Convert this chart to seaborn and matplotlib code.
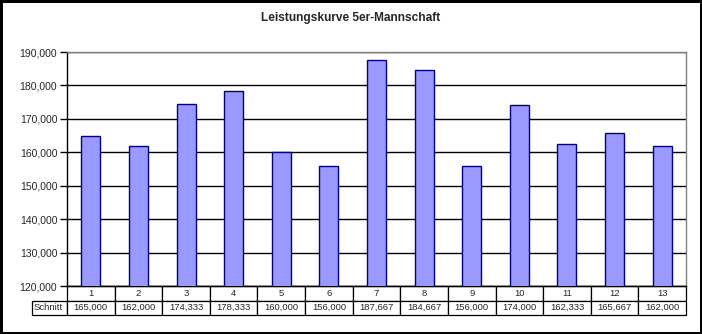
import matplotlib
matplotlib.use("Agg")
import matplotlib.pyplot as plt
import seaborn as sns
import pandas as pd

# Performance curve of the 5-player team: average ("Schnitt") per match
matches = ["1", "2", "3", "4", "5", "6", "7", "8", "9", "10", "11", "12", "13"]
schnitt = [165.000, 162.000, 174.333, 178.333, 160.000, 156.000, 187.667,
           184.667, 156.000, 174.000, 162.333, 165.667, 162.000]
y_ticks = [120000, 130000, 140000, 150000, 160000, 170000, 180000, 190000]

values = [v * 1000 for v in schnitt]
df = pd.DataFrame({"Spiel": matches, "Schnitt": values})

sns.set_style("white")
plt.rcParams["font.family"] = ["Liberation Sans", "DejaVu Sans"]

W, H = 702, 334
fig = plt.figure(figsize=(W / 100, H / 100), dpi=100)
fig.patch.set_facecolor("white")
fig.patch.set_edgecolor("black")
fig.patch.set_linewidth(2.5)

L, R, T, B = 67, 686, 52, 286
ax = fig.add_axes([L / W, 1 - B / H, (R - L) / W, (B - T) / H])

sns.barplot(data=df, x="Spiel", y="Schnitt", ax=ax, width=0.4,
            color="#9999FF", edgecolor="#000080", linewidth=1.0,
            saturation=1, zorder=3)

ax.set_ylim(y_ticks[0], y_ticks[-1])
ax.set_xlim(-0.5, len(matches) - 0.5)
ax.set_yticks(y_ticks)
ax.set_yticklabels([f"{t:,}" for t in y_ticks], fontsize=7.5)
ax.yaxis.grid(True, color="black", linewidth=1.0, zorder=0)
ax.set_axisbelow(True)
ax.tick_params(axis="y", direction="out", length=5, width=1, color="black",
               left=True, pad=2)
ax.set_xticks([])
ax.set_xlabel("")
ax.set_ylabel("")
for side in ("top", "right"):
    ax.spines[side].set_color("#808080")
    ax.spines[side].set_linewidth(1)
ax.spines["left"].set_color("black")
ax.spines["left"].set_linewidth(1)
ax.spines["bottom"].set_color("black")
ax.spines["bottom"].set_linewidth(1)

fig.suptitle("Leistungskurve 5er-Mannschaft", x=0.5, y=1 - 18 / H, va="center",
             fontsize=8.6, fontweight="bold",
             family=["Liberation Sans Narrow", "Liberation Sans"])

# Data table underneath the bars
label_w = 35
plot_w = R - L
table_h = 29
cell_text = [[""] + matches,
             ["Schnitt"] + [f"{v:,.0f}" for v in values]]
col_w = [label_w] + [plot_w / len(matches)] * len(matches)
tbl = ax.table(cellText=cell_text, cellLoc="center",
               colWidths=[c / (plot_w + label_w) for c in col_w],
               bbox=[-label_w / plot_w, -table_h / (B - T),
                     (plot_w + label_w) / plot_w, table_h / (B - T)])
tbl.auto_set_font_size(False)
for (r, c), cell in tbl.get_celld().items():
    cell.set_linewidth(0.9)
    cell.set_edgecolor("black")
    cell.get_text().set_fontsize(6.8)
    if r == 0 and c == 0:
        cell.visible_edges = ""
    elif c == 0:
        cell.get_text().set_ha("left")
        cell.PAD = 0.05

fig.savefig("out.png", dpi=100)
